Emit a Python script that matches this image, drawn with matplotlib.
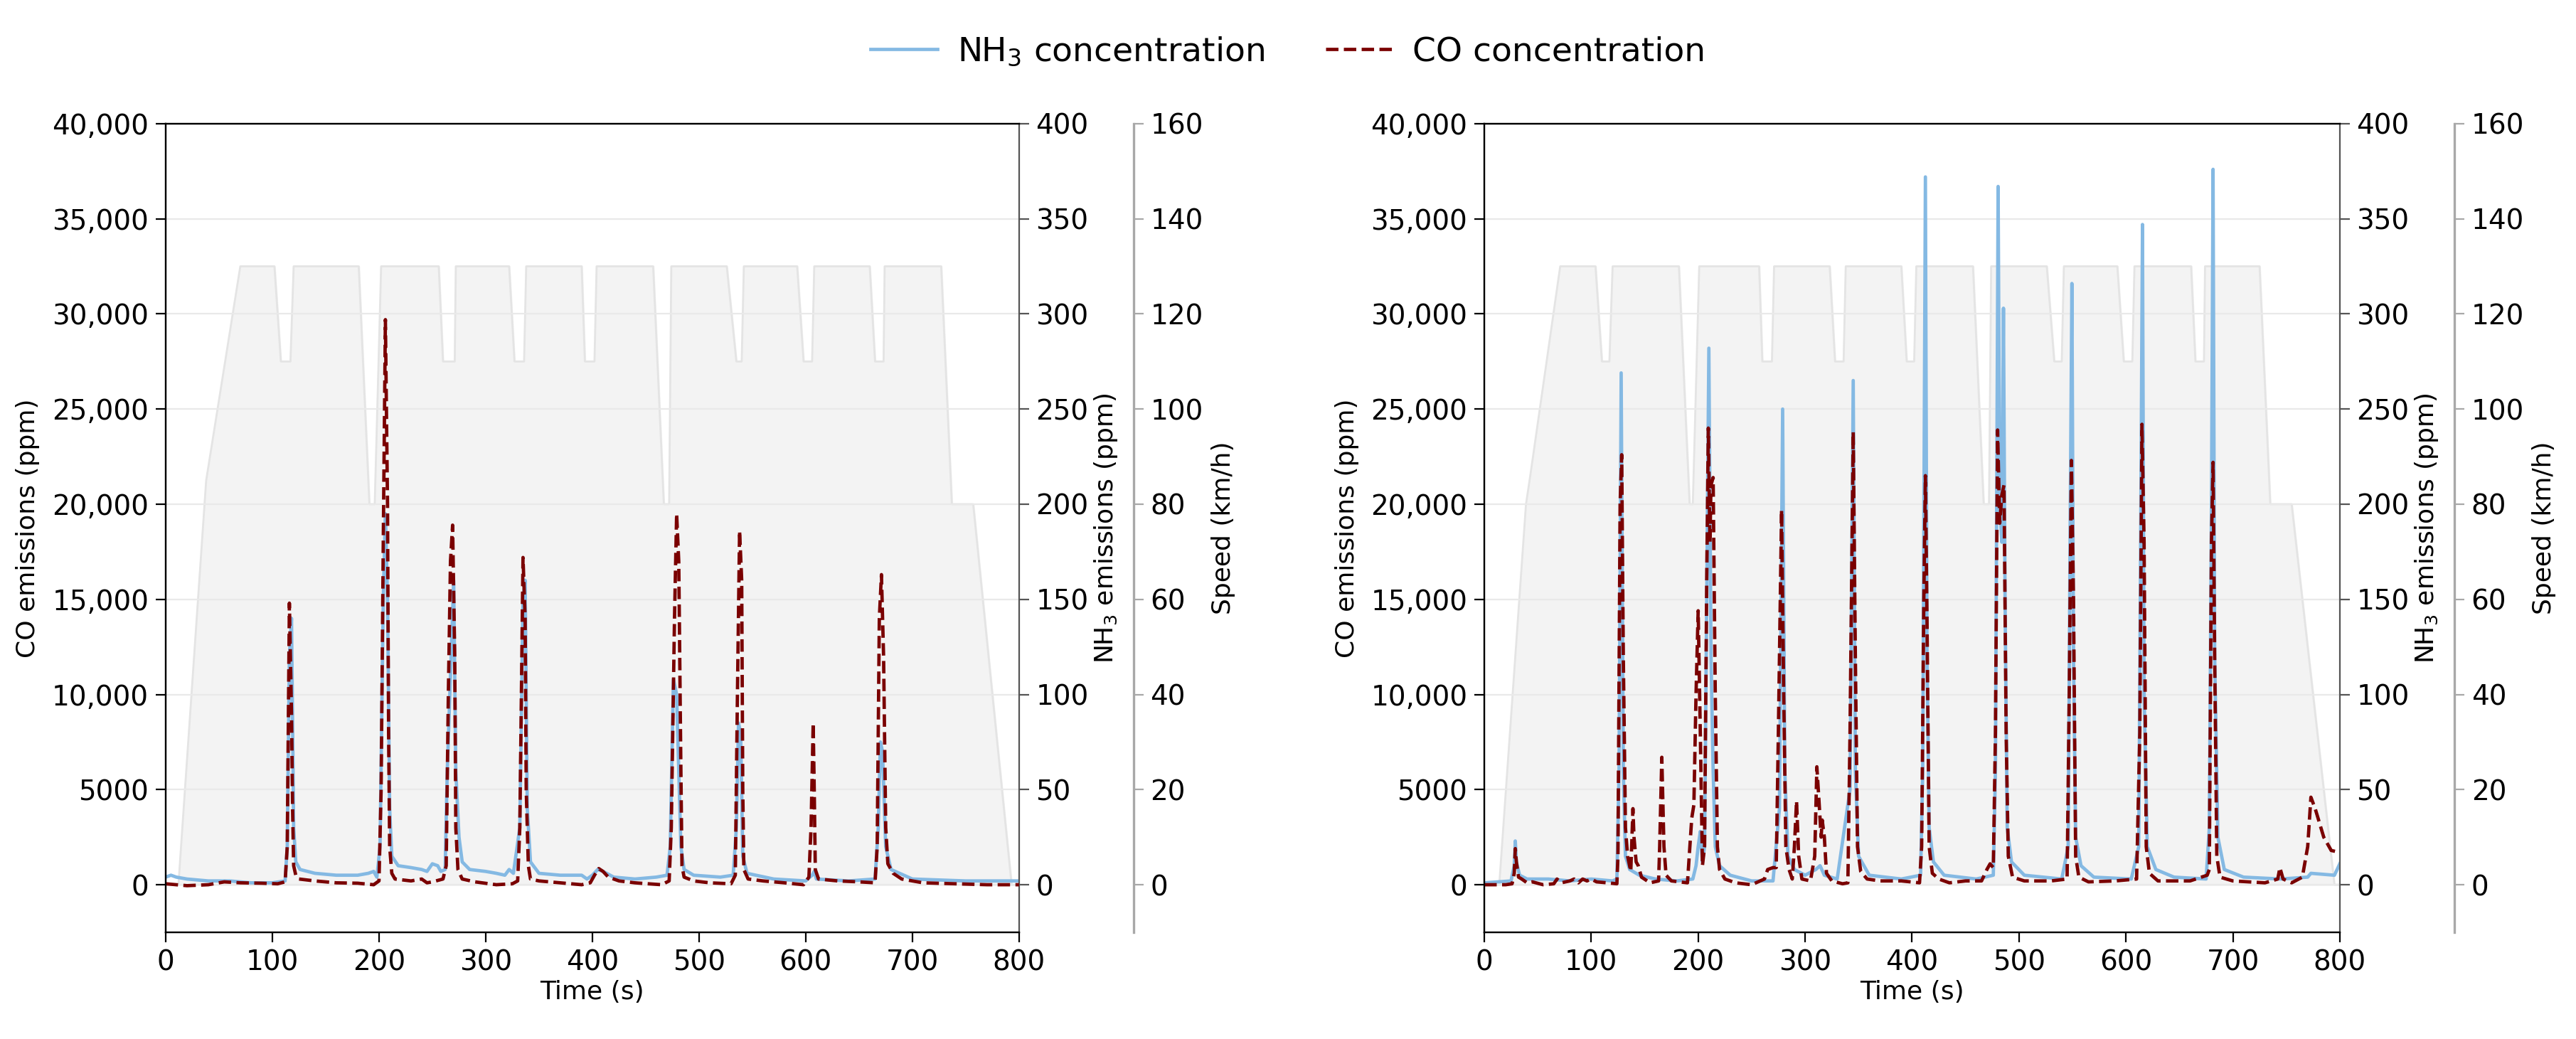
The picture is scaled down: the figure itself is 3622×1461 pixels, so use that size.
import matplotlib
matplotlib.use("Agg")
import matplotlib.pyplot as plt
from matplotlib.ticker import FuncFormatter, MultipleLocator

plt.rcParams['font.family'] = ['DejaVu Sans']

# ---- speed profile (km/h) ----
speed_t_left = [0, 12, 38, 70, 102, 108, 117, 120, 181, 191, 196, 202, 256, 260, 271, 272,
                322, 327, 336, 338, 390, 393, 402, 404, 457, 467, 472, 474, 526, 535, 540, 542,
                592, 598, 606, 608, 660, 665, 673, 674, 727, 737, 757, 793, 800]
speed_v_left = [0, 0, 85, 130, 130, 110, 110, 130, 130, 80, 80, 130, 130, 110, 110, 130,
                130, 110, 110, 130, 130, 110, 110, 130, 130, 80, 80, 130, 130, 110, 110, 130,
                130, 110, 110, 130, 130, 110, 110, 130, 130, 80, 80, 0, 0]

speed_t_right = [0, 14, 39, 43, 71, 104, 110, 117, 120, 182, 192, 195, 201, 257, 260, 269, 271,
                 323, 328, 336, 338, 390, 395, 402, 404, 457, 467, 472, 474, 526, 533, 540, 542,
                 592, 598, 606, 608, 661, 665, 673, 674, 725, 735, 755, 795, 800]
speed_v_right = [0, 0, 80, 86, 130, 130, 110, 110, 130, 130, 80, 80, 130, 130, 110, 110, 130,
                 130, 110, 110, 130, 130, 110, 110, 130, 130, 80, 80, 130, 130, 110, 110, 130,
                 130, 110, 110, 130, 130, 110, 110, 130, 130, 80, 80, 0, 0]

# ---- left test: CO (ppm) ----
co_t_left = [0, 10, 20, 40, 55, 70, 90, 105, 112, 114, 116, 118, 119, 120, 122, 125, 140, 160,
             180, 195, 200, 202, 204, 206, 208, 209, 210, 212, 215, 230, 240, 245, 250, 260,
             263, 265, 267, 269, 271, 272, 274, 278, 290, 310, 325, 330, 332, 335, 337, 338,
             340, 342, 350, 370, 390, 398, 402, 406, 410, 415, 425, 440, 465, 472, 474, 477,
             479, 481, 483, 484, 486, 495, 510, 530, 534, 536, 538, 540, 541, 542, 546, 560,
             580, 598, 603, 605, 607, 608, 609, 612, 630, 650, 665, 667, 669, 671, 673, 675,
             677, 682, 690, 710, 740, 770, 800]
co_v_left = [50, 0, -50, 0, 150, 100, 80, 50, 150, 2000, 14800, 9000, 4000, 1000, 500, 300, 200,
             100, 80, 0, 200, 5000, 18000, 29700, 20000, 8000, 2000, 600, 300, 200, 300, 100,
             150, 300, 1000, 10000, 17000, 18900, 12000, 3000, 800, 300, 150, 0, 50, 200, 3000,
             17200, 14000, 5000, 1000, 300, 200, 100, 0, 100, 500, 850, 700, 400, 200, 100, 0,
             200, 3000, 14000, 19500, 17000, 6000, 1000, 400, 200, 100, 50, 500, 10000, 18600,
             16000, 5000, 800, 300, 200, 100, 0, 400, 3000, 8500, 5000, 800, 300, 200, 150, 100,
             2000, 14000, 16300, 12000, 3000, 1100, 600, 300, 100, 50, 0, 0]

# ---- left test: NH3 (ppm) ----
nh3_t_left = [0, 5, 10, 20, 40, 60, 80, 100, 112, 114, 116, 118, 120, 122, 126, 140, 160, 180,
              190, 195, 198, 201, 204, 206, 208, 210, 212, 218, 230, 240, 245, 250, 255, 258,
              262, 264, 267, 270, 272, 275, 278, 285, 300, 310, 318, 322, 326, 332, 335, 337,
              339, 342, 350, 370, 390, 395, 400, 405, 410, 420, 440, 460, 470, 473, 476, 479,
              481, 483, 486, 495, 520, 532, 535, 537, 539, 541, 545, 570, 600, 606, 608, 610,
              640, 665, 668, 670, 672, 675, 680, 700, 750, 800]
nh3_v_left = [4, 5, 4, 3, 2, 2, 1, 1, 2, 20, 120, 140, 30, 12, 8, 6, 5, 5, 6, 7, 4, 20, 150, 195,
              150, 40, 15, 10, 9, 8, 7, 11, 10, 7, 8, 60, 110, 160, 60, 25, 12, 8, 7, 6, 5, 8, 6,
              30, 150, 160, 40, 12, 6, 5, 5, 3, 5, 8, 7, 4, 3, 4, 5, 20, 108, 100, 60, 20, 8, 5,
              4, 5, 30, 85, 80, 15, 6, 3, 2, 5, 7, 3, 2, 3, 30, 75, 70, 20, 8, 3, 2, 2]

# ---- right test: CO (ppm) ----
co_t_right = [0, 20, 26, 28, 29, 30, 32, 35, 40, 45, 55, 65, 68, 72, 80, 84, 88, 92, 96, 100,
              105, 115, 124, 125, 127, 128.5, 130, 132, 134, 137, 139, 140, 142, 144, 147, 155,
              163, 164, 166, 168, 170, 175, 190, 194, 196, 198, 200, 202, 204, 206, 208, 209.5,
              211, 212, 214, 216, 218, 220, 225, 235, 250, 262, 265, 270, 273, 275, 278, 280,
              282, 285, 288, 290, 292, 294, 297, 305, 309, 311, 313, 315, 316, 318, 320, 325,
              335, 340, 342, 345, 347, 349, 352, 358, 370, 390, 407, 409, 411, 412.5, 414, 416,
              419, 425, 435, 450, 465, 470, 473, 476, 478, 480, 482, 484, 486, 488, 490, 494,
              505, 530, 545, 547, 549, 551, 553, 556, 565, 590, 610, 613, 615, 617, 619, 622,
              630, 660, 676, 678, 680, 681.5, 683, 685, 688, 700, 730, 742, 744, 747, 755, 765,
              770, 773, 777, 785, 792, 800]
co_v_right = [0, 0, 50, 600, 1900, 1200, 400, 300, 100, 150, 0, 50, 300, 100, 200, 300, 100, 300,
              200, 300, 150, 100, 50, 1500, 20000, 22600, 12000, 3000, 1500, 700, 4000, 2500,
              1200, 1000, 400, 100, 200, 2000, 6700, 2000, 500, 200, 100, 3500, 4200, 10000,
              14400, 8000, 1000, 2000, 16000, 24000, 18000, 21000, 21400, 10000, 2000, 800, 300,
              100, 0, 300, 800, 900, 900, 8000, 19700, 10000, 2000, 800, 300, 2000, 4400, 1500,
              300, 200, 1500, 6200, 4400, 2500, 3400, 2500, 600, 200, 50, 100, 8000, 23800,
              12000, 2000, 700, 300, 200, 200, 100, 2000, 15000, 21500, 14000, 2000, 600, 300,
              100, 200, 200, 800, 1100, 900, 8000, 23900, 19000, 20500, 21000, 8000, 1500, 400,
              200, 200, 300, 10000, 22300, 15000, 1500, 400, 150, 200, 300, 8000, 24200, 18000,
              2000, 600, 200, 200, 500, 800, 18000, 22200, 12000, 1500, 400, 200, 100, 300, 900,
              300, 100, 400, 2000, 4600, 4000, 2500, 1800, 1700]

# ---- right test: NH3 (ppm) ----
nh3_t_right = [0, 25, 28, 29, 30, 33, 40, 60, 80, 100, 120, 124, 126, 128, 130, 132, 136, 145,
               160, 180, 195, 198, 200, 202, 204, 206, 208, 210, 212, 214, 216, 220, 230, 250,
               270, 276, 279, 281, 284, 290, 300, 310, 314, 318, 330, 342, 345, 347, 350, 360,
               390, 408, 410, 412.5, 414, 416, 420, 430, 460, 476, 478, 480.5, 482, 484, 485.5,
               487, 489, 493, 505, 540, 546, 548, 549.5, 551, 553, 558, 570, 605, 612, 614,
               615.5, 617, 620, 628, 645, 675, 678, 680, 681.5, 683, 686, 692, 710, 745, 770,
               773, 795, 800]
nh3_v_right = [1, 2, 10, 23, 12, 5, 3, 3, 2, 3, 2, 3, 60, 269, 60, 15, 8, 5, 3, 2, 3, 10, 20, 28,
               12, 20, 150, 282, 120, 60, 20, 10, 5, 2, 2, 40, 250, 60, 15, 8, 5, 8, 10, 5, 3,
               50, 265, 60, 15, 5, 3, 5, 60, 372, 120, 30, 12, 5, 3, 5, 60, 367, 200, 180, 303,
               150, 30, 12, 5, 3, 20, 200, 316, 120, 25, 10, 4, 3, 20, 200, 347, 100, 20, 8, 4,
               3, 30, 200, 376, 120, 25, 8, 4, 3, 4, 6, 5, 11]

co_ticks = [0, 5000, 10000, 15000, 20000, 25000, 30000, 35000, 40000]

NH3_COLOR = '#84b9e3'
CO_COLOR = '#7a0000'


def co_fmt(v, pos):
    if v >= 10000:
        return f"{v:,.0f}"
    return f"{v:.0f}"


def draw_panel(rect, speed_t, speed_v, co_t, co_v, nh3_t, nh3_v):
    ax = fig.add_axes(rect)
    ax2 = ax.twinx()
    ax3 = ax.twinx()

    # layering: speed at the back, then NH3, CO on top
    ax3.set_zorder(1)
    ax2.set_zorder(2)
    ax.set_zorder(3)
    ax.patch.set_visible(False)
    ax2.patch.set_visible(False)

    ax3.fill_between(speed_t, speed_v, 0, color='#f3f3f3', zorder=1)
    ax3.plot(speed_t, speed_v, color='#e4e4e4', lw=1.0, zorder=1.2)
    ax3.set_ylim(-10, 160)
    ax3.yaxis.set_major_locator(MultipleLocator(20))
    ax3.grid(True, color='#e9e9e9', lw=0.8)
    ax3.spines['right'].set_position(('axes', 1.134))
    for s in ['left', 'top', 'bottom']:
        ax3.spines[s].set_visible(False)
    ax3.spines['right'].set_color('#a8a8a8')
    ax3.spines['right'].set_linewidth(1.2)
    ax3.tick_params(axis='y', colors='#a8a8a8', labelcolor='black', labelsize=14, length=5)
    ax3.set_ylabel('Speed (km/h)', fontsize=13, labelpad=4)

    ax2.plot(nh3_t, nh3_v, color=NH3_COLOR, lw=1.7, label='NH$_3$ concentration')
    ax2.set_ylim(-25, 400)
    ax2.yaxis.set_major_locator(MultipleLocator(50))
    ax2.spines['right'].set_color('#555555')
    ax2.tick_params(axis='y', colors='#555555', labelcolor='black', labelsize=14, length=5)
    ax2.set_ylabel('NH$_3$ emissions (ppm)', fontsize=13, labelpad=2)

    ax.plot(co_t, co_v, color=CO_COLOR, lw=1.7, ls='--', label='CO concentration')
    ax.set_xlim(0, 800)
    ax.set_ylim(-2500, 40000)
    ax.set_yticks(co_ticks)
    ax.yaxis.set_major_formatter(FuncFormatter(co_fmt))
    ax.xaxis.set_major_locator(MultipleLocator(100))
    ax.tick_params(labelsize=14, length=5)
    ax.spines['right'].set_visible(False)
    ax.set_xlabel('Time (s)', fontsize=13, labelpad=2)
    ax.set_ylabel('CO emissions (ppm)', fontsize=13, labelpad=6)
    return ax, ax2


fig = plt.figure(figsize=(18.11, 7.305), dpi=200)

axL, axL2 = draw_panel([0.0643, 0.1027, 0.3313, 0.7783], speed_t_left, speed_v_left,
                       co_t_left, co_v_left, nh3_t_left, nh3_v_left)
axR, axR2 = draw_panel([0.5762, 0.1027, 0.3321, 0.7783], speed_t_right, speed_v_right,
                       co_t_right, co_v_right, nh3_t_right, nh3_v_right)

handles = axL2.get_lines()[:1] + axL.get_lines()[:1]
labels = [h.get_label() for h in handles]
fig.legend(handles, labels, loc='upper center', bbox_to_anchor=(0.5, 0.995), ncol=2,
           frameon=False, fontsize=17, handlelength=2.0, handletextpad=0.6, columnspacing=1.8)

fig.savefig('out.png', dpi=200)
